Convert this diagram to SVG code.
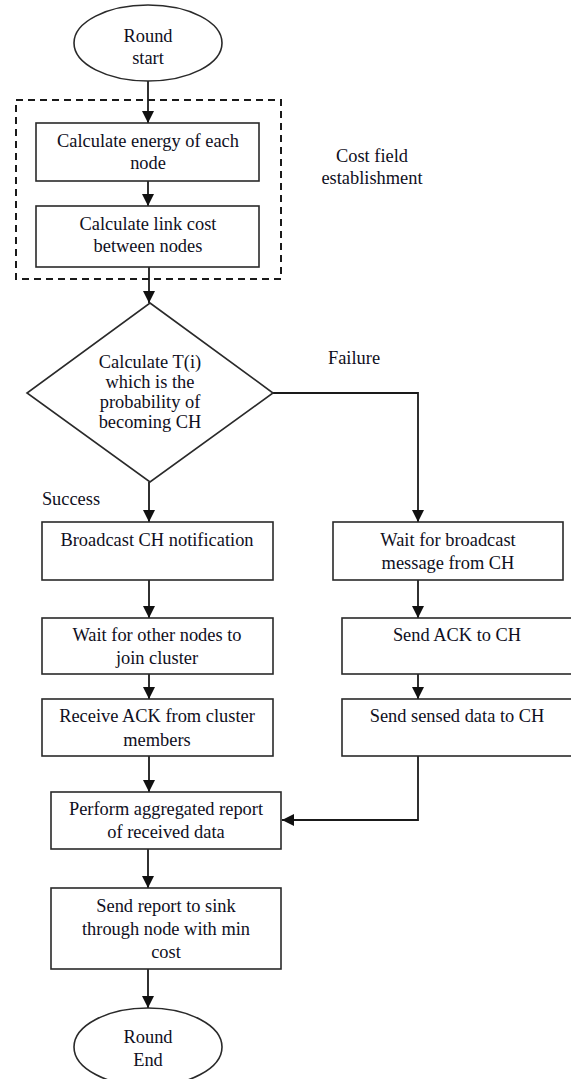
<svg xmlns="http://www.w3.org/2000/svg" width="571" height="1079" viewBox="0 0 571 1079">
<style>
text{font-family:"Liberation Serif","Times New Roman",serif;font-size:18.4px;fill:#0f0f22;text-anchor:middle}
.box{fill:#fff;stroke:#2a2a2a;stroke-width:1.6}
.conn{fill:none;stroke:#1a1a1a;stroke-width:1.8}
.dash{fill:none;stroke:#1a1a1a;stroke-width:2;stroke-dasharray:7 5}
</style>
<defs>
<marker id="ah" markerUnits="userSpaceOnUse" markerWidth="12" markerHeight="14" refX="12" refY="6" orient="auto">
<path d="M0,0 L12,6 L0,12 Z" fill="#111"/>
</marker>
</defs>
<rect width="571" height="1079" fill="#fff"/>
<g id="cost-field">
<rect class="dash" x="16" y="100" width="265" height="179"/>
<text x="372" y="162">Cost field</text>
<text x="372" y="184">establishment</text>
</g>
<g id="connectors">
<line class="conn" x1="148" y1="81" x2="148" y2="123" marker-end="url(#ah)"/>
<line class="conn" x1="148" y1="181" x2="148" y2="206" marker-end="url(#ah)"/>
<line class="conn" x1="149" y1="267" x2="149" y2="303" marker-end="url(#ah)" stroke="#555"/>
<line class="conn" x1="149" y1="482" x2="149" y2="522" marker-end="url(#ah)"/>
<polyline class="conn" points="273,393 418,393 418,522" marker-end="url(#ah)"/>
<line class="conn" x1="149" y1="580" x2="149" y2="618" marker-end="url(#ah)"/>
<line class="conn" x1="149" y1="674" x2="149" y2="699" marker-end="url(#ah)"/>
<line class="conn" x1="149" y1="756" x2="149" y2="792" marker-end="url(#ah)"/>
<line class="conn" x1="418" y1="580" x2="418" y2="618" marker-end="url(#ah)"/>
<line class="conn" x1="418" y1="674" x2="418" y2="699" marker-end="url(#ah)"/>
<polyline class="conn" points="418,756 418,820 282,820" marker-end="url(#ah)" stroke="#555"/>
<line class="conn" x1="148" y1="849" x2="148" y2="888" marker-end="url(#ah)"/>
<line class="conn" x1="148" y1="969" x2="148" y2="1008" marker-end="url(#ah)"/>
<text x="354" y="364">Failure</text>
<text x="71" y="505">Success</text>
</g>
<g id="round-start">
<ellipse class="box" cx="148" cy="43" rx="74" ry="38"/>
<text x="148" y="42">Round</text>
<text x="148" y="64">start</text>
</g>
<g id="calc-energy">
<rect class="box" x="36" y="123" width="223" height="58"/>
<text x="148" y="147">Calculate energy of each</text>
<text x="148" y="169">node</text>
</g>
<g id="calc-link">
<rect class="box" x="36" y="206" width="223" height="61"/>
<text x="148" y="230">Calculate link cost</text>
<text x="148" y="252">between nodes</text>
</g>
<g id="decision">
<polygon class="box" points="150,303 273,393 150,482 27,393"/>
<text x="150" y="368">Calculate T(i)</text>
<text x="150" y="388">which is the</text>
<text x="150" y="408">probability of</text>
<text x="150" y="428">becoming CH</text>
</g>
<g id="broadcast">
<rect class="box" x="42" y="522" width="231" height="58"/>
<text x="157" y="546">Broadcast CH notification</text>
</g>
<g id="wait-join">
<rect class="box" x="42" y="618" width="231" height="56"/>
<text x="157" y="641">Wait for other nodes to</text>
<text x="157" y="664">join cluster</text>
</g>
<g id="receive-ack">
<rect class="box" x="42" y="699" width="231" height="57"/>
<text x="157" y="722">Receive ACK from cluster</text>
<text x="157" y="746">members</text>
</g>
<g id="wait-broadcast">
<rect class="box" x="333" y="522" width="230" height="58"/>
<text x="448" y="546">Wait for broadcast</text>
<text x="448" y="569">message from CH</text>
</g>
<g id="send-ack">
<rect class="box" x="342" y="618" width="232" height="56"/>
<text x="457" y="641">Send ACK to CH</text>
</g>
<g id="send-data">
<rect class="box" x="342" y="699" width="232" height="57"/>
<text x="457" y="722">Send sensed data to CH</text>
</g>
<g id="aggregate">
<rect class="box" x="51" y="792" width="230" height="57"/>
<text x="166" y="815">Perform aggregated report</text>
<text x="166" y="838">of received data</text>
</g>
<g id="send-report">
<rect class="box" x="51" y="888" width="230" height="81"/>
<text x="166" y="912">Send report to sink</text>
<text x="166" y="935">through node with min</text>
<text x="166" y="958">cost</text>
</g>
<g id="round-end">
<ellipse class="box" cx="148" cy="1047" rx="74" ry="39"/>
<text x="148" y="1043">Round</text>
<text x="148" y="1066">End</text>
</g>
</svg>
